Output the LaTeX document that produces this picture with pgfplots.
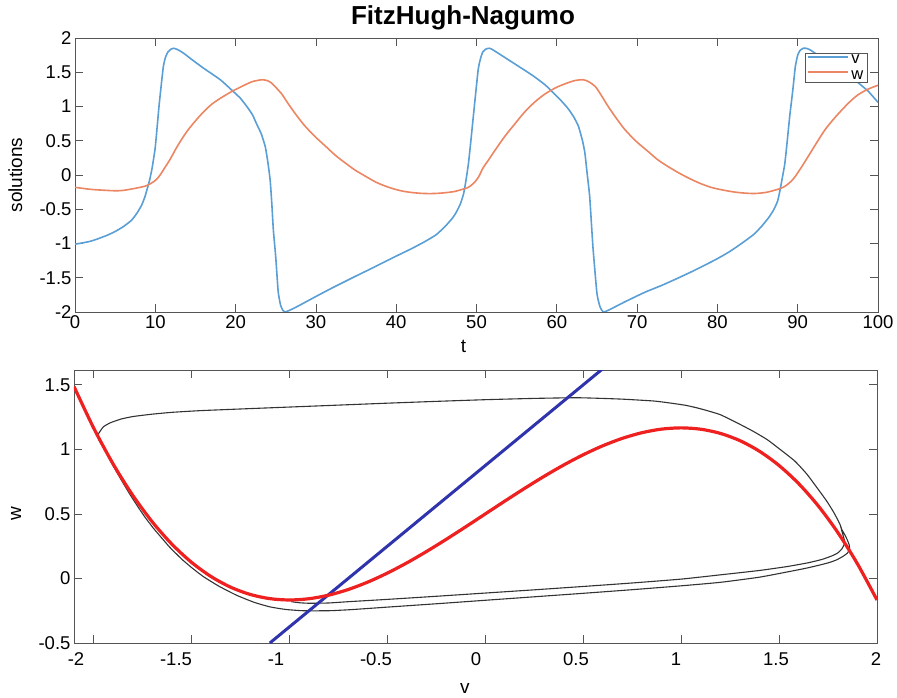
\documentclass[border=0pt]{standalone}
\usepackage{pgfplots}
\pgfplotsset{compat=1.18}
\usepackage{fontspec}
\setmainfont{Liberation Sans}

\definecolor{vblue}{RGB}{90,158,214}
\definecolor{worange}{RGB}{236,134,98}
\definecolor{ncred}{RGB}{238,32,32}
\definecolor{ncblue}{RGB}{48,52,172}
\definecolor{axgray}{RGB}{85,85,85}

\pgfplotsset{
  fhnaxis/.style={
    scale only axis,
    axis line style={axgray, line width=0.8pt},
    every tick/.style={axgray, line width=0.8pt},
    major tick length=8pt,
    tick align=inside,
    tick label style={font=\fontsize{18.5}{20}\selectfont},
    label style={font=\fontsize{19}{21}\selectfont},
    /pgf/number format/assume math mode=true,
  },
}

\begin{document}
\begin{tikzpicture}
\useasboundingbox (0pt,0pt) rectangle (897pt,697pt);

\node[anchor=base, font=\bfseries\fontsize{26}{30}\selectfont] at (463pt,672pt) {FitzHugh-Nagumo};

% time courses of v and w
\begin{axis}[fhnaxis,
  at={(75pt,385pt)}, anchor=south west,
  width=803pt, height=274pt,
  xmin=0, xmax=100, ymin=-2, ymax=2,
  xtick={0,10,...,100}, ytick={-2,-1.5,...,2},
  xlabel={t}, ylabel={solutions},
  xlabel style={at={(axis description cs:0.4838,0)}, anchor=base, yshift=-41pt},
  ylabel style={at={(axis description cs:-0.066,0.5)}, anchor=base},
  legend cell align=left,
  legend style={at={(axis description cs:0.987,0.945)}, anchor=north east,
    draw=axgray, line width=0.8pt, inner xsep=2pt, inner ysep=0.5pt, row sep=3pt,
    font=\fontsize{16.5}{17}\selectfont,
    nodes={inner ysep=0pt, inner xsep=2pt, text height=10pt, text depth=2.5pt}},
  legend image code/.code={\draw[#1, line width=1.6pt] (0pt,3.5pt) -- (40pt,3.5pt);},
]
\addplot[vblue, line width=1.6pt, smooth, tension=0.3] coordinates {
(0,-1.01) (1,-0.99) (2,-0.965) (3,-0.925) (4,-0.88) (5,-0.825) (6,-0.755)
(7,-0.665) (7.7,-0.56) (8.3,-0.44) (8.7,-0.32) (9.0,-0.2) (9.3,-0.07)
(9.6,0.1) (10.0,0.41) (10.5,1.05) (11.0,1.58) (11.3,1.73) (11.6,1.80)
(12.0,1.84) (12.3,1.85) (12.8,1.83) (13.5,1.78) (14.5,1.69) (16.0,1.56)
(18.1,1.39) (19.7,1.22) (20.6,1.12) (21.4,1.0) (22.1,0.88) (22.6,0.75)
(23.2,0.6) (23.7,0.41) (24.0,0.2) (24.3,-0.07) (24.5,-0.4) (24.7,-0.8)
(25.0,-1.2) (25.3,-1.7) (25.6,-1.9) (25.9,-1.98) (26.2,-2.0) (27,-1.96)
(28,-1.90) (29.9,-1.78) (32,-1.65) (34.9,-1.48) (37,-1.36) (39.9,-1.19)
(42,-1.07) (43.6,-0.97) (45,-0.87) (46.1,-0.75) (47,-0.63) (47.5,-0.54)
(48,-0.42) (48.4,-0.27) (48.7,-0.07) (49.0,0.17) (49.3,0.5) (49.6,0.85)
(50.2,1.53) (50.5,1.7) (50.8,1.8) (51.2,1.84) (51.6,1.85) (52,1.83)
(54.0,1.68) (56.9,1.46) (58.5,1.32) (59.4,1.22) (60.5,1.09) (61.4,0.97)
(62.1,0.85) (62.7,0.71) (63.2,0.5) (63.5,0.32) (63.8,0.0) (64.1,-0.32)
(64.5,-1.05) (65.0,-1.73) (65.4,-1.93) (65.8,-2.0) (66.5,-1.97) (68.5,-1.85)
(71,-1.71) (73.1,-1.61) (75,-1.51) (77,-1.40) (79.7,-1.24) (81.5,-1.12)
(83.0,-1.0) (84.5,-0.87) (85.5,-0.75) (86.4,-0.62) (87.0,-0.51) (87.5,-0.38)
(87.8,-0.22) (88.1,-0.03) (88.4,0.17) (88.7,0.5) (89.0,0.85) (89.4,1.25)
(89.7,1.58) (90.0,1.75) (90.3,1.82) (90.7,1.85) (91.0,1.85) (91.5,1.83)
(93.4,1.68) (95,1.56) (96.3,1.46) (97.5,1.35) (98.8,1.22) (100,1.06)
};
\addlegendentry{v}
\addplot[worange, line width=1.6pt, smooth, tension=0.5] coordinates {
(0,-0.18) (2,-0.21) (4,-0.225) (5,-0.23) (6,-0.225) (7.7,-0.19) (8.8,-0.16)
(9.5,-0.12) (10.1,-0.07) (10.6,0.0) (11.2,0.11) (11.8,0.22) (12.8,0.43)
(13.9,0.63) (15,0.79) (16.0,0.92) (17,1.03) (18.1,1.12) (19.7,1.23)
(21.8,1.35) (22.7,1.38) (23.4,1.39) (24,1.375) (24.5,1.34) (25,1.28)
(25.7,1.19) (26.5,1.05) (27.4,0.90) (28.6,0.72) (29.9,0.56) (31.2,0.42)
(32.4,0.29) (33.6,0.18) (34.9,0.07) (36.2,-0.02) (37.4,-0.10) (38.6,-0.16)
(39.9,-0.21) (41,-0.24) (42.3,-0.26) (43.5,-0.27) (44.8,-0.27) (46,-0.26)
(47.3,-0.24) (48.2,-0.21) (48.8,-0.19) (49.3,-0.155) (49.8,-0.10)
(50.3,-0.02) (50.8,0.10) (51.5,0.22) (52.3,0.36) (53.5,0.56) (54.8,0.75)
(56,0.92) (57.3,1.07) (58.5,1.18) (59.8,1.27) (61,1.33) (62.3,1.38)
(63.3,1.39) (64,1.36) (64.8,1.29) (65.5,1.17) (66.4,1.0) (67.4,0.83)
(68.5,0.66) (69.9,0.49) (71.4,0.34) (72.6,0.22) (73.9,0.12) (75.2,0.03)
(76.5,-0.05) (77.8,-0.12) (79.2,-0.18) (80.7,-0.22) (82.2,-0.25)
(83.5,-0.265) (84.7,-0.27) (86,-0.255) (87.2,-0.22) (88,-0.19) (88.6,-0.15)
(89.2,-0.09) (89.7,-0.02) (90.5,0.12) (91.3,0.27) (92.3,0.46) (93.4,0.66)
(94.5,0.82) (95.5,0.95) (96.5,1.07) (97.5,1.17) (98.7,1.25) (100,1.31)
};
\addlegendentry{w}
\end{axis}

% phase plane with nullclines
\begin{axis}[fhnaxis,
  at={(74pt,54pt)}, anchor=south west,
  width=803pt, height=273pt,
  xmin=-2.1, xmax=2, ymin=-0.5, ymax=1.615,
  xtick={-2,-1.5,...,2}, xticklabels={},
  extra x ticks={-2.0898,-1.5792,-1.0686,-0.5580,-0.0475,0.4631,0.9737,1.4843,1.9949},
  extra x tick labels={-2,-1.5,-1,-0.5,0,0.5,1,1.5,2},
  extra x tick style={major tick length=0pt, tick label style={yshift=-6pt}},
  ytick={-0.5,0,...,1.5},
  xlabel={v}, ylabel={w},
  xlabel style={at={(axis description cs:0.4869,0)}, anchor=base, yshift=-50pt},
  ylabel style={at={(axis description cs:-0.066,0.4725)}, anchor=base},
]
\addplot[black!80, line width=1.1pt, smooth, tension=0.3] coordinates {
(-0.99,-0.180) (-0.95,-0.188) (-0.90,-0.192) (-0.80,-0.190) (-0.70,-0.180)
(-0.50,-0.162) (-0.25,-0.138) (0,-0.113) (0.25,-0.088) (0.5,-0.062)
(0.75,-0.035) (1.0,-0.005) (1.2,0.028) (1.4,0.062) (1.54,0.092) (1.65,0.122)
(1.72,0.148) (1.77,0.175) (1.80,0.198) (1.82,0.228) (1.832,0.262)
(1.834,0.292) (1.828,0.328) (1.82,0.37) (1.811,0.42) (1.78,0.51)
(1.743,0.60) (1.70,0.69) (1.641,0.81) (1.58,0.91) (1.505,1.0) (1.44,1.075)
(1.368,1.14) (1.28,1.21) (1.198,1.27) (1.11,1.31) (1.028,1.34) (0.94,1.36)
(0.858,1.375) (0.688,1.39) (0.475,1.40) (0.25,1.395) (0,1.385)
(-0.25,1.372) (-0.5,1.358) (-0.75,1.343) (-1.0,1.328) (-1.25,1.313)
(-1.457,1.30) (-1.6,1.287) (-1.70,1.273) (-1.797,1.255) (-1.86,1.235)
(-1.916,1.205) (-1.95,1.175) (-1.967,1.14) (-1.978,1.11) (-1.972,1.07)
(-1.95,1.02) (-1.91,0.90) (-1.865,0.78) (-1.82,0.665) (-1.78,0.57)
(-1.74,0.48) (-1.695,0.39) (-1.65,0.31) (-1.61,0.24) (-1.55,0.15)
(-1.50,0.085) (-1.44,0.015) (-1.36,-0.06) (-1.27,-0.13) (-1.18,-0.185)
(-1.10,-0.22) (-1.02,-0.24) (-0.93,-0.25) (-0.80,-0.25) (-0.69,-0.242)
(-0.5,-0.222) (-0.25,-0.196) (0,-0.169) (0.25,-0.142) (0.5,-0.115)
(0.75,-0.087) (1.0,-0.057) (1.2,-0.03) (1.4,0.01) (1.54,0.05) (1.64,0.08)
(1.71,0.105) (1.76,0.125) (1.795,0.145) (1.825,0.17) (1.848,0.195)
(1.86,0.225) (1.858,0.26) (1.848,0.30) (1.835,0.34) (1.82,0.38)
(1.811,0.42) (1.78,0.51) (1.743,0.60) (1.70,0.69) (1.641,0.81) (1.58,0.91)
(1.505,1.0) (1.44,1.075) (1.368,1.14) (1.28,1.21) (1.198,1.27) (1.11,1.31)
(1.06,1.33)
};
% w-nullcline
\addplot[ncblue, line width=3pt] coordinates {(-1.1,-0.5) (0.62,1.65)};
% v-nullcline
\addplot[ncred, line width=3.2pt, smooth] coordinates {
(-2.1,1.487) (-2.0,1.1667) (-1.9,0.8863) (-1.8,0.644) (-1.7,0.4377)
(-1.6,0.2653) (-1.5,0.125) (-1.4,0.0147) (-1.3,-0.0677) (-1.2,-0.124)
(-1.1,-0.1563) (-1.0,-0.1667) (-0.9,-0.157) (-0.8,-0.1293) (-0.7,-0.0857)
(-0.6,-0.028) (-0.5,0.0417) (-0.4,0.1213) (-0.3,0.209) (-0.2,0.3027)
(-0.1,0.4003) (0,0.5) (0.1,0.5997) (0.2,0.6973) (0.3,0.791) (0.4,0.8787)
(0.5,0.9583) (0.6,1.028) (0.7,1.0857) (0.8,1.1293) (0.9,1.157) (1.0,1.1667)
(1.1,1.1563) (1.2,1.124) (1.3,1.0677) (1.4,0.9853) (1.5,0.875) (1.6,0.7347)
(1.7,0.5623) (1.8,0.356) (1.9,0.1137) (2.0,-0.1667)
};
\end{axis}
\end{tikzpicture}
\end{document}
